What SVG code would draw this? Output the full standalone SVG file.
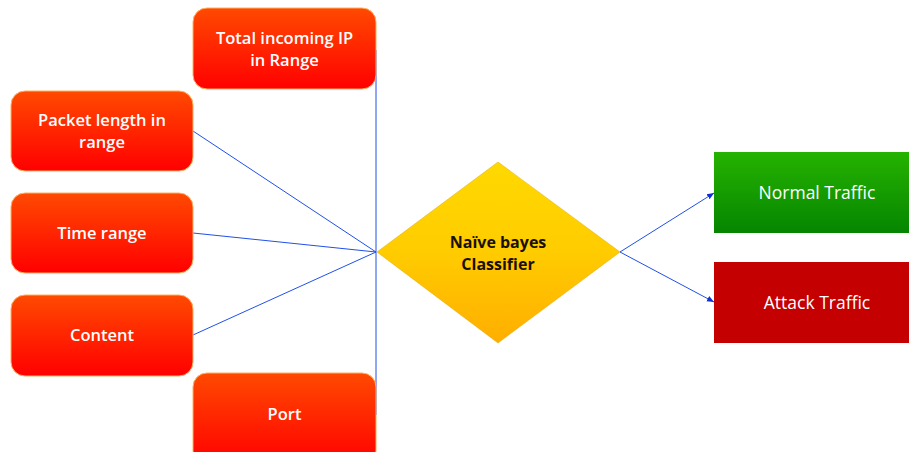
<svg xmlns="http://www.w3.org/2000/svg" width="909" height="452" viewBox="0 0 909 452">
<defs>
<linearGradient id="gRed" x1="0" y1="0" x2="0" y2="1"><stop offset="0" stop-color="#ff4a00"/><stop offset="1" stop-color="#ff0000"/></linearGradient>
<linearGradient id="gGreen" x1="0" y1="0" x2="0" y2="1"><stop offset="0" stop-color="#26b300"/><stop offset="1" stop-color="#058500"/></linearGradient>
<linearGradient id="gGold" x1="0" y1="0" x2="0" y2="1"><stop offset="0" stop-color="#ffd900"/><stop offset="0.5" stop-color="#ffcc00"/><stop offset="1" stop-color="#ffae00"/></linearGradient>
<marker id="arr" markerWidth="8" markerHeight="8" refX="7" refY="4" orient="auto" markerUnits="userSpaceOnUse"><path d="M0,1 L7,4 L0,7 z" fill="#1030d0"/></marker>
</defs>
<style>
.rbox{fill:url(#gRed);stroke:#ffb060;stroke-width:1}
.lbl{font-family:"Open Sans","Liberation Sans",sans-serif;font-size:16.5px;font-weight:600;fill:#ffffff;text-anchor:middle}
.rlbl{font-family:"Open Sans","Liberation Sans",sans-serif;font-size:17.5px;font-weight:500;fill:#ffffff;text-anchor:middle}
.dlbl{font-family:"Open Sans","Liberation Sans",sans-serif;font-size:16px;font-weight:700;fill:#1a1000;text-anchor:middle}
.con{stroke:#2050e8;stroke-width:1;fill:none}
</style>
<rect width="909" height="452" fill="#ffffff"/>
<g id="connectors">
<line class="con" x1="376" y1="50" x2="376" y2="415" stroke="#1a28d8"/>
<line class="con" x1="193" y1="131" x2="376" y2="252"/>
<line class="con" x1="193" y1="233" x2="376" y2="252"/>
<line class="con" x1="193" y1="335" x2="376" y2="252"/>
<line class="con" x1="620" y1="252" x2="714" y2="193" marker-end="url(#arr)"/>
<line class="con" x1="620" y1="252" x2="714" y2="302" marker-end="url(#arr)"/>
</g>
<g id="total-ip">
<rect class="rbox" x="193" y="8" width="183" height="81" rx="14"/>
<text class="lbl" x="284.5" y="44">Total incoming IP</text>
<text class="lbl" x="284.5" y="66">in Range</text>
</g>
<g id="packet-length">
<rect class="rbox" x="11" y="91" width="182" height="80" rx="14"/>
<text class="lbl" x="102" y="126">Packet length in</text>
<text class="lbl" x="102" y="148">range</text>
</g>
<g id="time-range">
<rect class="rbox" x="11" y="193" width="182" height="80" rx="14"/>
<text class="lbl" x="102" y="239">Time range</text>
</g>
<g id="content">
<rect class="rbox" x="11" y="295" width="182" height="81" rx="14"/>
<text class="lbl" x="102" y="341">Content</text>
</g>
<g id="port">
<rect class="rbox" x="193" y="373" width="183" height="92" rx="14"/>
<text class="lbl" x="284.5" y="420">Port</text>
</g>
<g id="classifier">
<polygon points="498,162 620,252 498,343 377,252" fill="url(#gGold)" stroke="#e0a800" stroke-width="0.5"/>
<text class="dlbl" x="498" y="248">Naïve bayes</text>
<text class="dlbl" x="498" y="270">Classifier</text>
</g>
<g id="normal-traffic">
<rect x="714" y="152" width="200" height="81" fill="url(#gGreen)"/>
<text class="rlbl" x="817" y="199">Normal Traffic</text>
</g>
<g id="attack-traffic">
<rect x="714" y="262" width="200" height="81" fill="#c40000"/>
<text class="rlbl" x="817" y="309">Attack Traffic</text>
</g>
</svg>
